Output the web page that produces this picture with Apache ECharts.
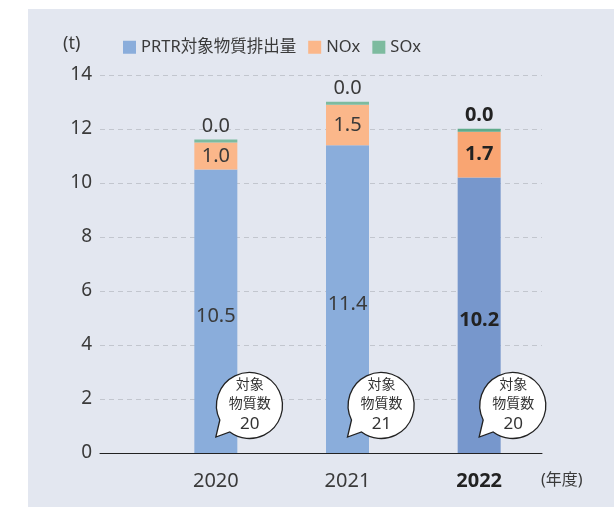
<!DOCTYPE html>
<html>
<head>
<meta charset="utf-8">
<script src="https://cdn.jsdelivr.net/npm/echarts@6/dist/echarts.min.js"></script>
<style>
html, body { margin: 0; padding: 0; background: #fff; }
#chart { width: 614px; height: 507px; }
</style>
</head>
<body>
<div id="chart"></div>
<script>
var years = ['2020', '2021', '2022'];
var prtr = [10.5, 11.4, 10.2];
var nox = [1.0, 1.5, 1.7];
var sox = [0.04, 0.04, 0.04];
var substanceCounts = [20, 21, 20];
var yTicks = [0, 2, 4, 6, 8, 10, 12, 14];

var font = '"Noto Sans", "Noto Sans CJK JP", sans-serif';
var lastIdx = years.length - 1;

// 最新年度は濃い色＋太字
function makeData(values, darkColor) {
    return values.map(function (v, i) {
        if (i === lastIdx) {
            return { value: v, itemStyle: { color: darkColor }, label: { fontWeight: 'bold', color: '#222' } };
        }
        return v;
    });
}

var labelBase = {
    show: true,
    fontSize: 20,
    fontFamily: font,
    color: '#3a3a3a',
    formatter: function (p) { return Number(p.value).toFixed(1); }
};

var option = {
    backgroundColor: '#fff',
    animation: false,
    graphic: [
        { type: 'rect', z: -10, shape: { x: 28, y: 9, width: 586, height: 498 }, style: { fill: '#e3e7f0' } },
        { type: 'text', left: 63, top: 35, style: { text: '(t)', fontSize: 18, fontFamily: font, fill: '#3a3a3a' } },
        { type: 'text', left: 541, top: 472, style: { text: '(年度)', fontSize: 16, fontFamily: font, fill: '#3a3a3a' } }
    ],
    legend: {
        left: 118,
        top: 34,
        itemWidth: 13,
        itemHeight: 13,
        itemGap: 12,
        icon: 'rect',
        textStyle: { fontSize: 16.5, fontFamily: font, color: '#3a3a3a' },
        data: ['PRTR対象物質排出量', 'NOx', 'SOx']
    },
    grid: [
        { left: 100, right: 72, top: 75, bottom: 54 },
        { left: 150, right: 69, top: 75, bottom: 54 }
    ],
    xAxis: [
        {
            gridIndex: 0, type: 'value', min: 0, max: 1,
            axisLine: { show: true, onZero: false, lineStyle: { color: '#222', width: 1 } },
            axisTick: { show: false }, axisLabel: { show: false }, splitLine: { show: false }
        },
        {
            gridIndex: 1, type: 'category', data: years,
            axisLine: { show: false }, axisTick: { show: false },
            axisLabel: {
                margin: 18,
                fontSize: 20,
                fontFamily: font,
                color: '#3a3a3a',
                formatter: function (v, i) { return i === lastIdx ? '{b|' + v + '}' : v; },
                rich: { b: { fontSize: 20, fontFamily: font, fontWeight: 'bold', color: '#222' } }
            }
        }
    ],
    yAxis: [
        {
            gridIndex: 0, type: 'value', min: 0, max: 14, interval: 2,
            axisLine: { show: false }, axisTick: { show: false },
            axisLabel: { margin: 8, fontSize: 19, fontFamily: font, color: '#3a3a3a' },
            splitLine: { lineStyle: { color: '#c2c6ce', type: [5, 4], width: 1 } }
        },
        {
            gridIndex: 1, type: 'value', min: 0, max: 14, interval: 2,
            axisLine: { show: false }, axisTick: { show: false },
            axisLabel: { show: false }, splitLine: { show: false }
        }
    ],
    series: [
        {
            name: 'PRTR対象物質排出量', type: 'bar', stack: 'total',
            xAxisIndex: 1, yAxisIndex: 1, barWidth: 43,
            itemStyle: { color: '#8aaddb' },
            label: Object.assign({}, labelBase, { position: 'inside', offset: [0, 5] }),
            data: makeData(prtr, '#7797cc')
        },
        {
            name: 'NOx', type: 'bar', stack: 'total',
            xAxisIndex: 1, yAxisIndex: 1, barWidth: 43,
            itemStyle: { color: '#fbb78a' },
            label: Object.assign({}, labelBase, { position: 'inside' }),
            data: makeData(nox, '#f9a572')
        },
        {
            name: 'SOx', type: 'bar', stack: 'total',
            xAxisIndex: 1, yAxisIndex: 1, barWidth: 43, barMinHeight: 3,
            itemStyle: { color: '#7dbb9f' },
            label: Object.assign({}, labelBase, { position: 'top', distance: 3 }),
            data: makeData(sox, '#5fab8b')
        },
        {
            // 対象物質数の吹き出し
            type: 'custom', xAxisIndex: 1, yAxisIndex: 1, z: 10,
            data: substanceCounts.map(function (c, i) { return [i, 0, c]; }),
            encode: { x: 0, y: 1 },
            renderItem: function (params, api) {
                var base = api.coord([api.value(0), 0]);
                var cx = base[0] + 33;
                var cy = base[1] - 49;
                return {
                    type: 'group',
                    children: [
                        {
                            type: 'path', x: cx, y: cy,
                            shape: { pathData: 'M -33 33 L -29 16 A 33 33 0 1 1 -19 28 Z' },
                            style: { fill: '#fff', stroke: '#222', lineWidth: 1.3 }
                        },
                        {
                            type: 'text', x: cx + 1, y: cy + 1,
                            style: {
                                text: '{c|対象}\n{c|物質数}\n{n|' + api.value(2) + '}',
                                align: 'center', verticalAlign: 'middle',
                                rich: {
                                    c: { fontSize: 14, lineHeight: 19, fontFamily: font, fill: '#333' },
                                    n: { fontSize: 17, lineHeight: 21, fontFamily: font, fill: '#333' }
                                }
                            }
                        }
                    ]
                };
            }
        }
    ]
};

var chart = echarts.init(document.getElementById('chart'));
chart.setOption(option);
</script>
</body>
</html>
